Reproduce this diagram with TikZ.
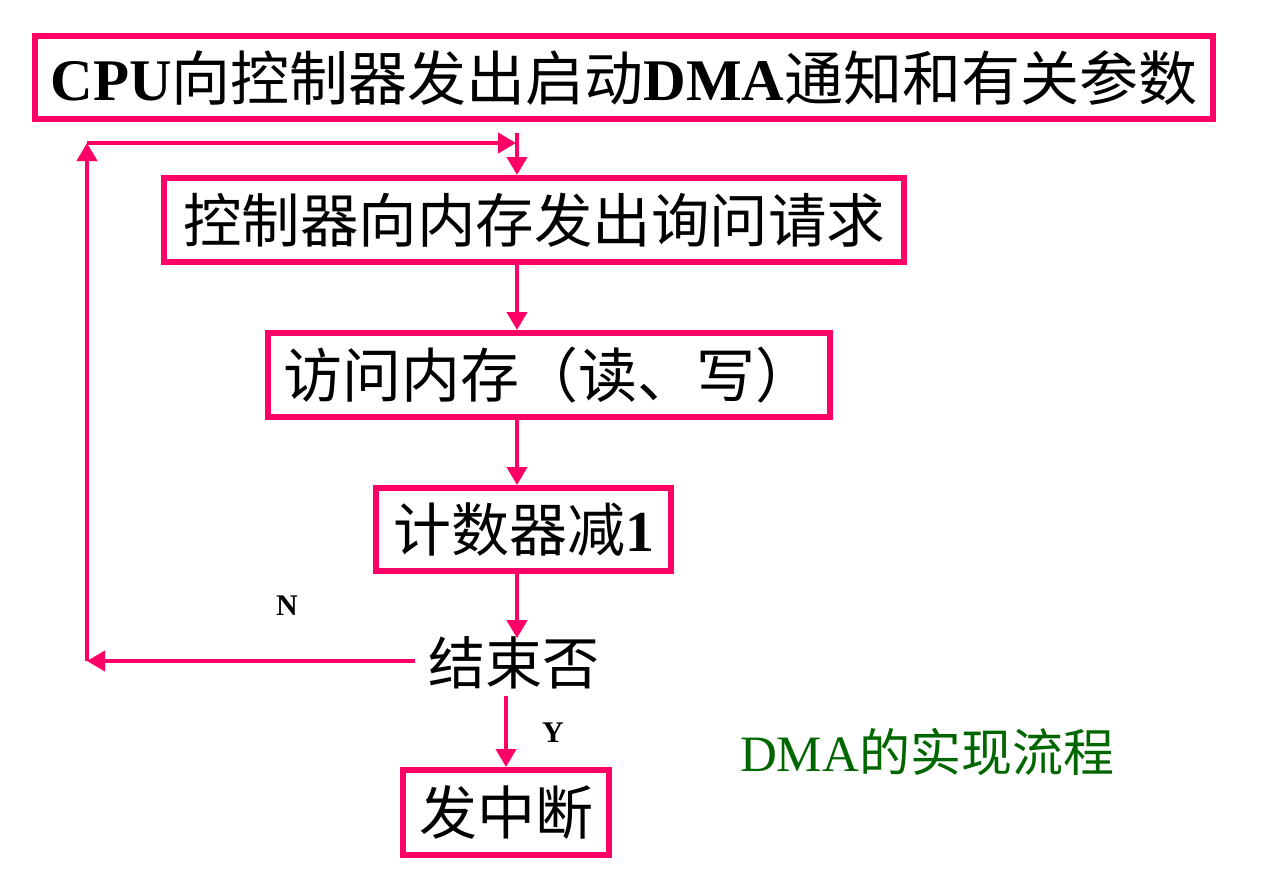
\documentclass[tikz,border=0pt]{standalone}
\usepackage{fontspec}
\setmainfont{Liberation Serif}
\newfontfamily\cjk{Noto Sans CJK SC}
\usetikzlibrary{arrows.meta}
\definecolor{pinkline}{RGB}{255,0,102}
\definecolor{capgreen}{RGB}{0,102,0}
\begin{document}
\begin{tikzpicture}[x=1pt,y=-1pt,
  box/.style={draw=pinkline,line width=6pt,inner sep=0pt,align=center},
  arr/.style={draw=pinkline,line width=4pt,-{Triangle[length=18pt 0 0,width=20pt 0 0]}},
  lbl/.style={inner sep=0pt,font=\fontsize{30}{32}\selectfont\bfseries}]
\useasboundingbox (0,0) rectangle (1263,881);
% boxes
\node[box,minimum width=1178pt,minimum height=83pt,font=\fontsize{59}{63}\selectfont,text height=52pt,text depth=7pt]
  (B1) at (624,77.5) {{\bfseries CPU}{\cjk 向控制器发出启动}{\bfseries DMA}{\cjk 通知和有关参数}};
\node[box,minimum width=740pt,minimum height=84pt,font=\fontsize{58.5}{62}\selectfont,text height=51.5pt,text depth=7pt]
  (B2) at (534,220) {\cjk 控制器向内存发出询问请求};
\node[box,minimum width=562pt,minimum height=84pt,font=\fontsize{59}{63}\selectfont,text height=52pt,text depth=7pt]
  (B3) at (549,375) {\cjk 访问内存（读、写）};
\node[box,minimum width=295pt,minimum height=83pt,font=\fontsize{58}{62}\selectfont,text height=51pt,text depth=7pt]
  (B4) at (523.5,529.5) {{\cjk 计数器减}{\bfseries 1}};
\node[inner xsep=13pt,inner ysep=0pt,font=\fontsize{57}{61}\selectfont,text height=45.6pt,text depth=11.4pt,anchor=base]
  (J) at (514,684) {\cjk 结束否};
\node[box,minimum width=206pt,minimum height=85pt,font=\fontsize{58}{62}\selectfont,text height=51pt,text depth=7pt]
  (B5) at (506,812.5) {\cjk 发中断};
% labels
\node[lbl] (N) at (287,606) {N};
\node[lbl] (Y) at (553,733) {Y};
\node[inner sep=0pt,text=capgreen,font=\fontsize{51}{55}\selectfont,text height=45pt,text depth=6pt]
  (T) at (927,752) {DMA{\cjk 的实现流程}};
% connectors
\coordinate (cx) at (517,0);
\coordinate (a0) at (517,133);
\coordinate (Lb) at (87,661);
\coordinate (Lt) at (87,143);
\draw[arr] (a0) -- (B2.north -| cx);
\draw[arr] (B2.south -| cx) -- (B3.north -| cx);
\draw[arr] (B3.south -| cx) -- (B4.north -| cx);
\draw[arr] (B4.south -| cx) -- (J.north -| cx);
\draw[arr] (J.south -| B5.north) -- (B5.north);
\draw[arr] (Lb -| J.west) -- (Lb);
\draw[arr] (Lb) -- (Lt);
\draw[arr,shorten >=1pt] (Lt) -- (cx |- Lt);
\end{tikzpicture}
\end{document}
